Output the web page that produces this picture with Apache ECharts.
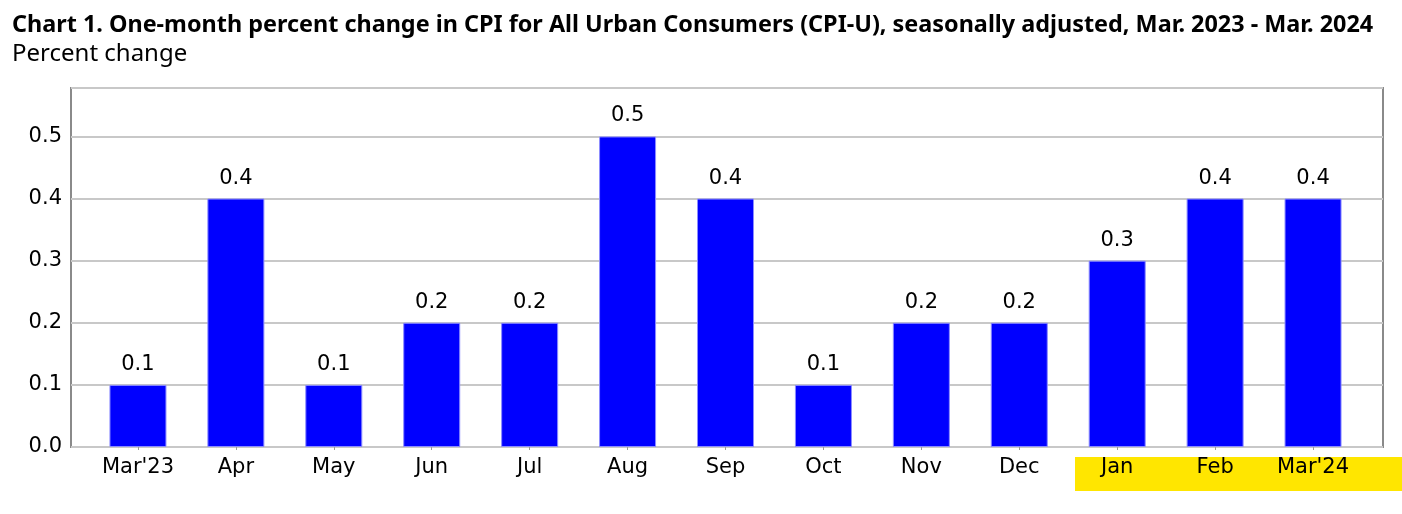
<!DOCTYPE html>
<html>
<head>
<meta charset="utf-8">
<script src="https://cdn.jsdelivr.net/npm/echarts@6/dist/echarts.min.js"></script>
<style>
html,body{margin:0;padding:0;background:#fff;}
#chart{width:1402px;height:514px;}
</style>
</head>
<body>
<div id="chart"></div>
<script>
const categories = ["Mar'23","Apr","May","Jun","Jul","Aug","Sep","Oct","Nov","Dec","Jan","Feb","Mar'24"];
const values = [0.1,0.4,0.1,0.2,0.2,0.5,0.4,0.1,0.2,0.2,0.3,0.4,0.4];
const yTicks = [0.0,0.1,0.2,0.3,0.4,0.5];
const titleText = "Chart 1. One-month percent change in CPI for All Urban Consumers (CPI-U), seasonally adjusted, Mar. 2023 - Mar. 2024";
const subtitleText = "Percent change";

const TFONT = "Noto Sans";
const FONT = "DejaVu Sans";
const yMax = 0.578;

const chart = echarts.init(document.getElementById('chart'), null, {renderer:'canvas'});
chart.setOption({
  animation:false,
  backgroundColor:'#fff',
  title:[{
    text:titleText,
    left:7, top:9,
    textStyle:{fontFamily:TFONT,fontWeight:'bold',fontSize:23.4,color:'#000'}
  },{
    text:subtitleText,
    left:7, top:37,
    textStyle:{fontFamily:TFONT,fontWeight:'normal',fontSize:24,color:'#000'}
  }],
  graphic:[{
    type:'rect', z:-1,
    shape:{x:1075,y:457,width:327,height:34},
    style:{fill:'#ffe600'}
  }],
  grid:[
    {left:71,right:19,top:88,bottom:67,show:true,borderColor:'#8a8a8a',borderWidth:2,backgroundColor:'transparent'},
    {left:89,right:40,top:88,bottom:67}
  ],
  xAxis:[
    {gridIndex:0,type:'category',data:categories,show:false},
    {gridIndex:1,type:'category',data:categories,
      axisLine:{show:false},
      axisTick:{show:true,alignWithLabel:true,length:3,lineStyle:{color:'#999'}},
      axisLabel:{fontFamily:FONT,fontSize:21,color:'#000',margin:10}
    }
  ],
  yAxis:[
    {gridIndex:0,type:'value',min:0,max:yMax,interval:0.1,
      axisLine:{show:false},axisTick:{show:false},
      splitLine:{show:true,lineStyle:{color:'#c8c8c8',width:2}},
      axisLabel:{fontFamily:FONT,fontSize:21,color:'#000',margin:9,showMaxLabel:false,
        formatter:function(v){ return yTicks.some(t=>Math.abs(t-v)<1e-9) ? v.toFixed(1) : ''; }}
    },
    {gridIndex:1,type:'value',min:0,max:yMax,show:false,splitLine:{show:false}}
  ],
  series:[{
    type:'bar',xAxisIndex:1,yAxisIndex:1,
    data:values,barWidth:57,
    itemStyle:{color:'#0000ff',borderColor:'#8c8cff',borderWidth:1},
    label:{show:true,position:'top',distance:10,fontFamily:FONT,fontSize:21,color:'#000',
      formatter:function(p){return p.value.toFixed(1);}}
  }]
});
</script>
</body>
</html>
